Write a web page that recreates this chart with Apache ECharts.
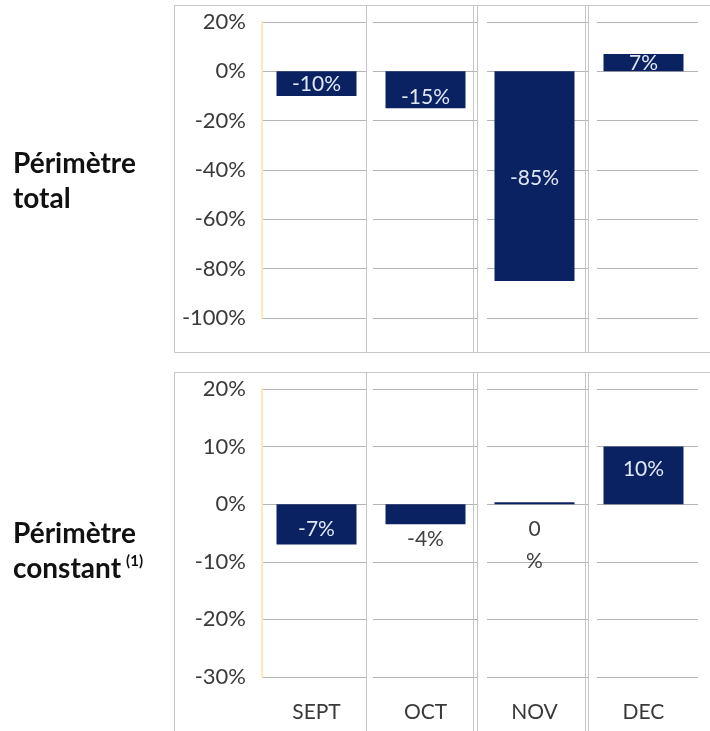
<!DOCTYPE html>
<html>
<head>
<meta charset="utf-8">
<script src="https://cdn.jsdelivr.net/npm/echarts@6/dist/echarts.min.js"></script>
<style>
  html, body { margin: 0; padding: 0; background: #fff; }
  #main { width: 710px; height: 731px; }
</style>
</head>
<body>
<div id="main"></div>
<script>
// données
var months = ['SEPT', 'OCT', 'NOV', 'DEC'];
var totalValues = [-10, -15, -85, 7];
var totalLabels = ['-10%', '-15%', '-85%', '7%'];
var constantValues = [-7, -3.5, 0, 10];
var constantLabels = ['-7%', '-4%', '0\n%', '10%'];

// réglages des étiquettes (style, pas données)
var totalLabelStyle = [
  { offset: [0, 1] },
  { offset: [0, 7] },
  { offset: [0, 2] },
  { offset: [0, 1] }
];
var constantLabelStyle = [
  { offset: [0, 5] },
  { offset: [0, 25], color: '#404040' },
  { offset: [0, 42], color: '#404040' },
  { offset: [0, -6] }
];

var barColor = '#0b2262';
var gridColor = '#b4b4b4';
var frameColor = '#c6c6c6';

function buildData(values, labels, styles) {
  return values.map(function (v, i) {
    var lab = { formatter: labels[i], offset: styles[i].offset };
    if (styles[i].color) lab.color = styles[i].color;
    return { value: v, label: lab };
  });
}

// cadres du tableau
function frame(top, bottom, gridTop, gridBottom) {
  var els = [];
  els.push({ type: 'rect', shape: { x: 174.5, y: top + 0.5, width: 560, height: bottom - top },
    style: { fill: 'none', stroke: frameColor, lineWidth: 1 }, z: 10 });
  [[367, 373], [478, 487], [589, 597]].forEach(function (g) {
    els.push({ type: 'rect', shape: { x: g[0], y: gridTop - 2, width: g[1] - g[0], height: gridBottom - gridTop + 4 },
      style: { fill: '#fff' }, z: 9 });
  });
  [366, 473, 477, 585, 588].forEach(function (x) {
    els.push({ type: 'line', shape: { x1: x + 0.5, y1: top, x2: x + 0.5, y2: bottom },
      style: { stroke: frameColor, lineWidth: 1 }, z: 10 });
  });
  return els;
}

var axisFont = { fontFamily: 'Lato', fontSize: 22, color: '#3a3a3a' };

var option = {
  backgroundColor: '#fff',
  animation: false,
  title: [{
    text: 'Périmètre\ntotal',
    left: 8, top: 141,
    textStyle: { fontFamily: 'Lato', fontWeight: 'bold', fontSize: 28, lineHeight: 35, color: '#111' }
  }, {
    text: '{a|Périmètre}\n{a|constant}{s|(1)}',
    left: 8, top: 511,
    textStyle: {
      rich: {
        a: { fontFamily: 'Lato', fontWeight: 'bold', fontSize: 28, lineHeight: 35, color: '#111' },
        s: { fontFamily: 'Lato', fontWeight: 'bold', fontSize: 15, lineHeight: 35, color: '#111', padding: [0, 0, 15, 5] }
      }
    }
  }],
  grid: [
    { left: 262, width: 436, top: 22, height: 296 },
    { left: 262, width: 436, top: 389, height: 288 }
  ],
  xAxis: [{
    type: 'category', gridIndex: 0, data: months,
    axisLine: { show: false }, axisTick: { show: false }, axisLabel: { show: false }
  }, {
    type: 'category', gridIndex: 1, data: months,
    axisLine: { show: false }, axisTick: { show: false },
    axisLabel: Object.assign({ margin: 25 }, axisFont, { fontSize: 21 })
  }],
  yAxis: [{
    type: 'value', gridIndex: 0, min: -100, max: 20, interval: 20,
    axisLine: { show: true, lineStyle: { color: '#fbe9b8', width: 2 } },
    axisTick: { show: false },
    axisLabel: Object.assign({ formatter: '{value}%', margin: 16 }, axisFont),
    splitLine: { lineStyle: { color: gridColor, width: 1 } }
  }, {
    type: 'value', gridIndex: 1, min: -30, max: 20, interval: 10,
    axisLine: { show: true, lineStyle: { color: '#fbe9b8', width: 2 } },
    axisTick: { show: false },
    axisLabel: Object.assign({ formatter: '{value}%', margin: 16 }, axisFont),
    splitLine: { lineStyle: { color: gridColor, width: 1 } }
  }],
  series: [{
    type: 'bar', xAxisIndex: 0, yAxisIndex: 0,
    barWidth: 80,
    itemStyle: { color: barColor },
    label: { show: true, position: 'inside', fontFamily: 'Lato', fontSize: 21, color: '#dfe8f7' },
    data: buildData(totalValues, totalLabels, totalLabelStyle)
  }, {
    type: 'bar', xAxisIndex: 1, yAxisIndex: 1,
    barWidth: 80, barMinHeight: 2,
    itemStyle: { color: barColor },
    label: { show: true, position: 'inside', fontFamily: 'Lato', fontSize: 21, lineHeight: 32, color: '#dfe8f7' },
    data: buildData(constantValues, constantLabels, constantLabelStyle)
  }],
  graphic: frame(5, 352, 22, 318).concat(frame(372, 760, 389, 677))
};

var myChart = echarts.init(document.getElementById('main'));
myChart.setOption(option);
</script>
</body>
</html>
